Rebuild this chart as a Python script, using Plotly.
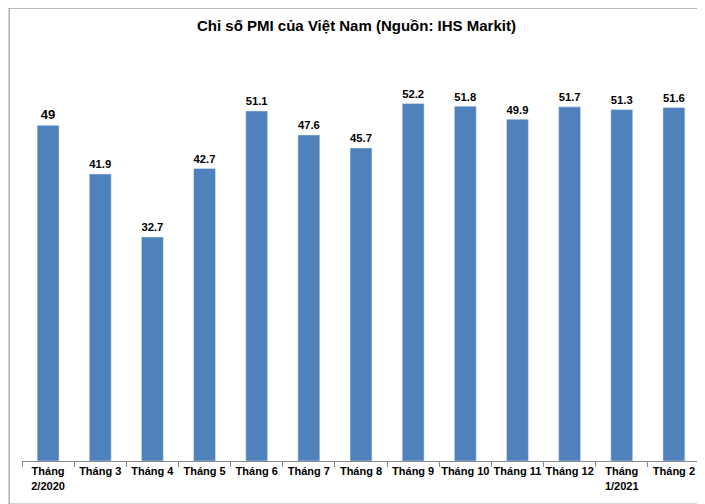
import plotly.graph_objects as go

months = ["Tháng<br>2/2020", "Tháng 3", "Tháng 4", "Tháng 5", "Tháng 6", "Tháng 7",
          "Tháng 8", "Tháng 9", "Tháng 10", "Tháng 11", "Tháng 12", "Tháng<br>1/2021", "Tháng 2"]
pmi = [49, 41.9, 32.7, 42.7, 51.1, 47.6, 45.7, 52.2, 51.8, 49.9, 51.7, 51.3, 51.6]
labels = ["<b>" + s + "</b>" for s in
          ["49", "41.9", "32.7", "42.7", "51.1", "47.6", "45.7", "52.2", "51.8", "49.9", "51.7", "51.3", "51.6"]]
tick_text = ["<b>" + m + "</b>" for m in months]

fig = go.Figure(go.Bar(
    x=months, y=pmi, text=labels, textposition="outside",
    textfont=dict(size=13, color="black", family="Liberation Sans"),
    marker_color="#4F81BD", width=0.42, cliponaxis=False,
))

fig.update_layout(
    width=697, height=496,
    margin=dict(l=14, r=5, t=42, b=43),
    paper_bgcolor="white", plot_bgcolor="white",
    title=dict(text="<b>Chỉ số PMI của Việt Nam (Nguồn: IHS Markit)</b>",
               x=0.5, y=0.965, yanchor="middle",
               font=dict(size=15, color="black", family="Liberation Sans")),
    font=dict(family="Liberation Sans", color="black"),
    showlegend=False,
    shapes=[dict(type="rect", xref="paper", yref="paper",
                 x0=-0.019, x1=1.006, y0=-0.105, y1=1.102,
                 line=dict(color="#888888", width=1))],
)
fig.update_xaxes(showline=True, linecolor="#888888", ticks="outside", tickson="boundaries",
                 ticklen=5, tickcolor="#888888", tickangle=0,
                 tickvals=months, ticktext=tick_text,
                 tickfont=dict(size=11, family="Liberation Sans"))
fig.update_yaxes(range=[0, 60], visible=False)

fig.write_html("out.html")
